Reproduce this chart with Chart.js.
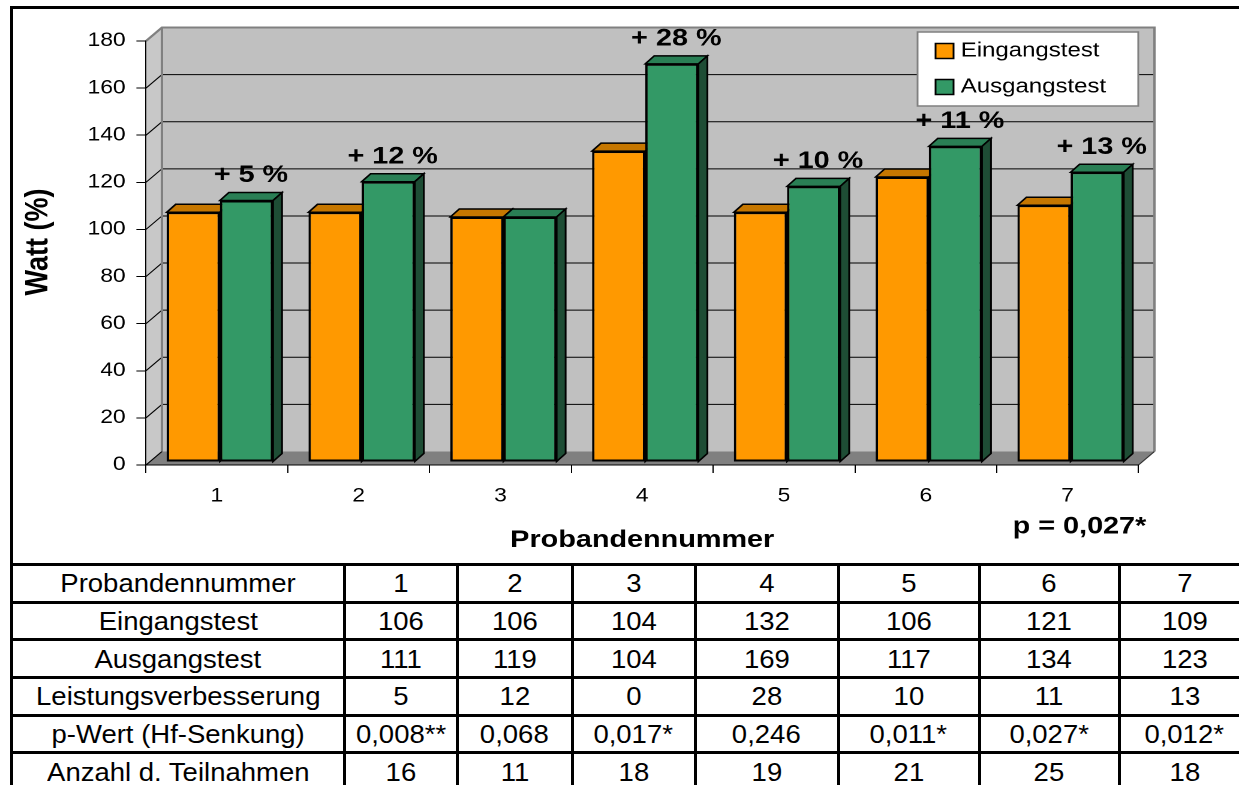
<!DOCTYPE html>
<html>
<head>
<meta charset="utf-8">
<script src="https://cdn.jsdelivr.net/npm/chart.js@4.4.1/dist/chart.umd.min.js"></script>
<style>
  body { margin: 0; background: #fff; width: 1239px; height: 785px; overflow: hidden; position: relative;
         font-family: "Liberation Sans", Arial, sans-serif; }
  #wrap { position: absolute; left: 0; top: 0; width: 1033px; height: 563px;
          transform: scaleX(1.19942); transform-origin: 0 0; }
  #frame { position: absolute; left: 10px; top: 6px; width: 1300px; height: 900px;
           border-top: 3px solid #000; border-left: 3px solid #000; pointer-events: none; }
  #tbl { position: absolute; left: 10px; top: 563px; border-collapse: collapse; table-layout: fixed;
         font-size: 25px; color: #000; }
  #tbl td { border: 3px solid #000; text-align: center; vertical-align: middle; padding: 0;
            height: 34.7px; line-height: 30px; white-space: nowrap; overflow: hidden; }
  #tbl td span { display: inline-block; transform: scaleX(1.1); }
</style>
</head>
<body>
<div id="wrap"><canvas id="chart" width="1033" height="563"></canvas></div>
<table id="tbl">
  <colgroup id="cols"></colgroup>
  <tbody id="rows"></tbody>
</table>
<div id="frame"></div>
<script>
const categories = ['1', '2', '3', '4', '5', '6', '7'];
const eingangstest = [106, 106, 104, 132, 106, 121, 109];
const ausgangstest = [111, 119, 104, 169, 117, 134, 123];
const verbesserung = [5, 12, 0, 28, 10, 11, 13];
const pWerte = ['0,008**', '0,068', '0,017*', '0,246', '0,011*', '0,027*', '0,012*'];
const teilnahmen = [16, 11, 18, 19, 21, 25, 18];
const pGesamt = 'p = 0,027*';

const FONT = '"Liberation Sans", Arial, sans-serif';
Chart.defaults.font.family = FONT;
Chart.defaults.color = '#000';

// 3D-Versatz (Wände, Balkentiefe, Balkenfront)
const DX = 13.3, DY = -13.5;
const BX = 7.5, BY = -8;
const SX = 2.5, SY = -3;

function poly(ctx, pts, fill, stroke, lw) {
    ctx.beginPath();
    ctx.moveTo(pts[0][0], pts[0][1]);
    pts.slice(1).forEach(p => ctx.lineTo(p[0], p[1]));
    ctx.closePath();
    if (fill) { ctx.fillStyle = fill; ctx.fill(); }
    if (stroke) { ctx.strokeStyle = stroke; ctx.lineWidth = lw || 1; ctx.stroke(); }
}

const walls = {
    id: 'walls',
    beforeDraw(chart) {
        const { ctx, chartArea: a, scales: { y } } = chart;
        ctx.save();
        // Rückwand und linke Wand
        poly(ctx, [[a.left + DX, a.top + DY], [a.right + DX, a.top + DY], [a.right + DX, a.bottom + DY], [a.left + DX, a.bottom + DY]], '#C0C0C0');
        poly(ctx, [[a.left, a.top], [a.left + DX, a.top + DY], [a.left + DX, a.bottom + DY], [a.left, a.bottom]], '#C8C8C8');
        // Boden
        poly(ctx, [[a.left, a.bottom], [a.left + DX, a.bottom + DY], [a.right + DX, a.bottom + DY], [a.right, a.bottom]], '#808080');
        // Gitterlinien
        ctx.strokeStyle = '#000';
        ctx.lineWidth = 1;
        y.ticks.forEach(t => {
            const py = y.getPixelForValue(t.value);
            ctx.beginPath();
            ctx.moveTo(a.left, py);
            ctx.lineTo(a.left + DX, py + DY);
            if (t.value > 0 && t.value < 180) ctx.lineTo(a.right + DX, py + DY);
            ctx.stroke();
        });
        // Kanten
        ctx.strokeStyle = '#808080';
        ctx.lineWidth = 2;
        ctx.beginPath();
        ctx.moveTo(a.left, a.top);
        ctx.lineTo(a.left + DX, a.top + DY);
        ctx.lineTo(a.right + DX, a.top + DY);
        ctx.lineTo(a.right + DX, a.bottom + DY);
        ctx.moveTo(a.left + DX, a.top + DY);
        ctx.lineTo(a.left + DX, a.bottom + DY);
        ctx.stroke();
        ctx.strokeStyle = '#333';
        ctx.lineWidth = 1;
        ctx.beginPath();
        ctx.moveTo(a.right, a.bottom);
        ctx.lineTo(a.right + DX, a.bottom + DY);
        ctx.stroke();
        ctx.restore();
    },
    beforeDatasetsDraw(chart) {
        const ctx = chart.ctx;
        ctx.save();
        ctx.translate(SX, SY);
        chart.data.datasets.forEach((ds, i) => {
            chart.getDatasetMeta(i).data.forEach(bar => {
                const { x, y, base, width } = bar.getProps(['x', 'y', 'base', 'width'], true);
                const l = x - width / 2, r = x + width / 2;
                poly(ctx, [[l, y], [l + BX, y + BY], [r + BX, y + BY], [r, y]], ds.topColor, '#000', 1.5);
                poly(ctx, [[r, y], [r + BX, y + BY], [r + BX, base + BY], [r, base]], ds.sideColor, '#000', 1.5);
            });
        });
    },
    afterDatasetsDraw(chart) {
        const ctx = chart.ctx;
        ctx.restore();
        ctx.save();
        ctx.fillStyle = '#000';
        ctx.font = 'bold 24px ' + FONT;
        ctx.textAlign = 'center';
        ctx.textBaseline = 'middle';
        chart.getDatasetMeta(1).data.forEach((bar, i) => {
            if (verbesserung[i] > 0) {
                ctx.fillText('+ ' + verbesserung[i] + ' %', bar.x + SX + BX / 2, bar.y + SY - 25);
            }
        });
        ctx.restore();
    },
    afterDraw(chart) {
        const ctx = chart.ctx;
        ctx.save();
        ctx.fillStyle = '#000';
        ctx.font = 'bold 24px ' + FONT;
        ctx.textAlign = 'center';
        ctx.textBaseline = 'middle';
        ctx.fillText(pGesamt, 900, 527);
        ctx.font = 'bold 27px ' + FONT;
        ctx.translate(32, 242);
        ctx.rotate(-Math.PI / 2);
        ctx.fillText('Watt (%)', 0, 0);
        ctx.restore();

        // Legende
        ctx.save();
        poly(ctx, [[765, 32], [949, 32], [949, 106], [765, 106]], '#fff', '#808080', 1.5);
        ctx.font = '20px ' + FONT;
        ctx.textAlign = 'left';
        ctx.textBaseline = 'middle';
        chart.data.datasets.forEach((ds, i) => {
            const cy = 51 + i * 36;
            poly(ctx, [[780, cy - 7.5], [795, cy - 7.5], [795, cy + 7.5], [780, cy + 7.5]], ds.backgroundColor, '#000', 1.5);
            ctx.fillStyle = '#000';
            ctx.fillText(ds.label, 801, cy);
        });
        ctx.restore();
    }
};

new Chart(document.getElementById('chart'), {
    type: 'bar',
    data: {
        labels: categories,
        datasets: [
            { label: 'Eingangstest', data: eingangstest, backgroundColor: '#FF9900', topColor: '#C67700', sideColor: '#8A5200',
              borderColor: '#000', borderWidth: 2, borderSkipped: false },
            { label: 'Ausgangstest', data: ausgangstest, backgroundColor: '#339966', topColor: '#2A7F55', sideColor: '#1E4D35',
              borderColor: '#000', borderWidth: 2, borderSkipped: false }
        ]
    },
    options: {
        responsive: false,
        animation: false,
        devicePixelRatio: 2,
        datasets: { bar: { categoryPercentage: 0.75, barPercentage: 1.0 } },
        layout: { padding: { top: 41, right: 83.8, bottom: 0, left: 0 } },
        plugins: { legend: { display: false }, tooltip: { enabled: false } },
        scales: {
            x: {
                grid: { drawOnChartArea: false, drawTicks: true, tickLength: 8, color: '#000', offset: true },
                border: { display: true, color: '#000', width: 1 },
                ticks: { color: '#000', font: { size: 19 }, padding: 12 },
                title: { display: true, text: 'Probandennummer', color: '#000',
                         font: { size: 24, weight: 'bold' }, padding: { top: 0, bottom: 8 } },
                afterFit: s => { s.height = 98; }
            },
            y: {
                min: 0, max: 180,
                grid: { drawOnChartArea: false, drawTicks: true, tickLength: 8, color: '#000' },
                border: { display: true, color: '#000', width: 1 },
                ticks: { stepSize: 20, color: '#000', font: { size: 19 }, padding: 9 },
                afterFit: s => { s.width = 121.7; }
            }
        }
    },
    plugins: [walls]
});

// Datentabelle
const colWidths = [333, 112.5, 115, 123, 143, 141, 140.5, 130];
const cols = document.getElementById('cols');
colWidths.forEach(w => { const c = document.createElement('col'); c.style.width = w + 'px'; cols.appendChild(c); });
const tableRows = [
    ['Probandennummer', ...categories],
    ['Eingangstest', ...eingangstest],
    ['Ausgangstest', ...ausgangstest],
    ['Leistungsverbesserung', ...verbesserung],
    ['p-Wert (Hf-Senkung)', ...pWerte],
    ['Anzahl d. Teilnahmen', ...teilnahmen]
];
const tbody = document.getElementById('rows');
tableRows.forEach(r => {
    const tr = document.createElement('tr');
    r.forEach(v => {
        const td = document.createElement('td');
        const sp = document.createElement('span');
        sp.textContent = v;
        td.appendChild(sp);
        tr.appendChild(td);
    });
    tbody.appendChild(tr);
});
document.getElementById('tbl').style.width = colWidths.reduce((a, b) => a + b, 0) + 'px';
</script>
</body>
</html>
